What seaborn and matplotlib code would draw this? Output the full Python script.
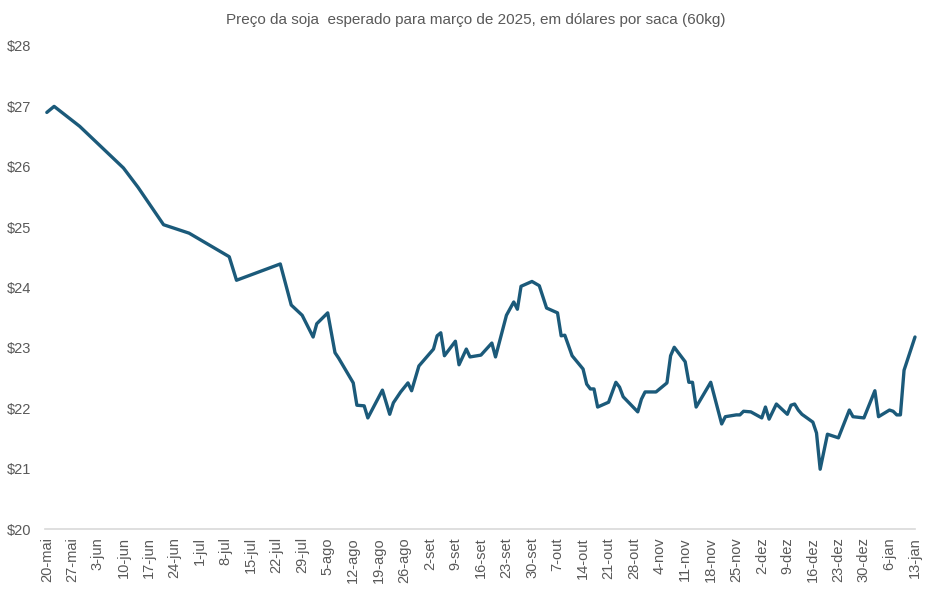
import pandas as pd
import numpy as np
import matplotlib.pyplot as plt
import seaborn as sns

# Preço da soja esperado para março de 2025 (US$ por saca de 60kg)
dates = [
    "2024-05-20", "2024-05-22", "2024-05-29", "2024-06-10", "2024-06-14", "2024-06-21",
    "2024-06-28", "2024-07-09", "2024-07-11", "2024-07-23", "2024-07-26", "2024-07-29",
    "2024-08-01", "2024-08-02", "2024-08-05", "2024-08-07", "2024-08-08", "2024-08-12",
    "2024-08-13", "2024-08-15", "2024-08-16", "2024-08-20", "2024-08-22", "2024-08-23",
    "2024-08-25", "2024-08-27", "2024-08-28", "2024-08-30", "2024-09-03", "2024-09-04",
    "2024-09-05", "2024-09-06", "2024-09-09", "2024-09-10", "2024-09-12", "2024-09-13",
    "2024-09-16", "2024-09-19", "2024-09-20", "2024-09-23", "2024-09-25", "2024-09-26",
    "2024-09-27", "2024-09-30", "2024-10-02", "2024-10-04", "2024-10-07", "2024-10-08",
    "2024-10-09", "2024-10-11", "2024-10-14", "2024-10-15", "2024-10-16", "2024-10-17",
    "2024-10-18", "2024-10-21", "2024-10-23", "2024-10-24", "2024-10-25", "2024-10-29",
    "2024-10-30", "2024-10-31", "2024-11-03", "2024-11-06", "2024-11-07", "2024-11-08",
    "2024-11-11", "2024-11-12", "2024-11-13", "2024-11-14", "2024-11-18", "2024-11-21",
    "2024-11-22", "2024-11-25", "2024-11-26", "2024-11-27", "2024-11-29", "2024-12-02",
    "2024-12-03", "2024-12-04", "2024-12-06", "2024-12-09", "2024-12-10", "2024-12-11",
    "2024-12-12", "2024-12-13", "2024-12-16", "2024-12-17", "2024-12-18", "2024-12-20",
    "2024-12-23", "2024-12-26", "2024-12-27", "2024-12-30", "2025-01-02", "2025-01-03",
    "2025-01-06", "2025-01-07", "2025-01-08", "2025-01-09", "2025-01-10", "2025-01-13",
]
prices = [
    26.90, 27.00, 26.67, 25.98, 25.66, 25.04,
    24.90, 24.51, 24.12, 24.39, 23.71, 23.54,
    23.18, 23.40, 23.58, 22.92, 22.83, 22.42,
    22.05, 22.04, 21.84, 22.30, 21.90, 22.09,
    22.27, 22.42, 22.29, 22.70, 22.98, 23.20,
    23.25, 22.87, 23.11, 22.72, 22.98, 22.85,
    22.88, 23.08, 22.85, 23.54, 23.76, 23.64,
    24.02, 24.10, 24.03, 23.66, 23.58, 23.20,
    23.21, 22.87, 22.65, 22.40, 22.32, 22.32,
    22.02, 22.10, 22.43, 22.35, 22.19, 21.94,
    22.15, 22.27, 22.27, 22.42, 22.87, 23.01,
    22.77, 22.43, 22.43, 22.02, 22.43, 21.74,
    21.86, 21.89, 21.89, 21.95, 21.94, 21.84,
    22.02, 21.82, 22.07, 21.90, 22.05, 22.07,
    21.97, 21.90, 21.77, 21.59, 20.99, 21.57,
    21.51, 21.97, 21.86, 21.84, 22.29, 21.86,
    21.97, 21.95, 21.89, 21.89, 22.63, 23.18,
]

tick_labels = [
    "20-mai", "27-mai", "3-jun", "10-jun", "17-jun", "24-jun", "1-jul", "8-jul",
    "15-jul", "22-jul", "29-jul", "5-ago", "12-ago", "19-ago", "26-ago", "2-set",
    "9-set", "16-set", "23-set", "30-set", "7-out", "14-out", "21-out", "28-out",
    "4-nov", "11-nov", "18-nov", "25-nov", "2-dez", "9-dez", "16-dez", "23-dez",
    "30-dez", "6-jan", "13-jan",
]
y_ticks = [20, 21, 22, 23, 24, 25, 26, 27, 28]

df = pd.DataFrame({"data": pd.to_datetime(dates), "preco": prices})

sns.set_style("white")
plt.rcParams['font.family'] = ['Liberation Sans', 'DejaVu Sans']

fig = plt.figure(figsize=(9.48, 5.89), dpi=100)
ax = fig.add_axes([45 / 948, 1 - 529 / 589, (915 - 45) / 948, (529 - 46) / 589])

sns.lineplot(data=df, x="data", y="preco", color="#1B5A7A", linewidth=2.4, ax=ax)
for line in ax.lines:
    line.set_clip_on(False)
    line.set_solid_joinstyle("round")

ax.set_xlim(pd.Timestamp("2024-05-19 12:00"), pd.Timestamp("2025-01-13"))
ax.set_ylim(20, 28)

tick_pos = pd.date_range("2024-05-20", periods=len(tick_labels), freq="7D")
ax.set_xticks(tick_pos)
ax.set_xticklabels(tick_labels, rotation=90, fontsize=10.5, color="#595959")
ax.set_yticks(y_ticks)
ax.set_yticklabels([f"${v}" for v in y_ticks], fontsize=10.5, color="#595959")
ax.tick_params(axis="x", length=0, pad=6)
ax.tick_params(axis="y", length=0, pad=10)

for side in ["top", "right", "left"]:
    ax.spines[side].set_visible(False)
ax.spines["bottom"].set_color("#D9D9D9")
ax.spines["bottom"].set_linewidth(1.2)
ax.set_xlabel("")
ax.set_ylabel("")

fig.text(0.502, 1 - 20 / 589, "Preço da soja  esperado para março de 2025, em dólares por saca (60kg)",
         ha="center", va="center", fontsize=11, color="#595959")

fig.savefig("out.png", dpi=100)
